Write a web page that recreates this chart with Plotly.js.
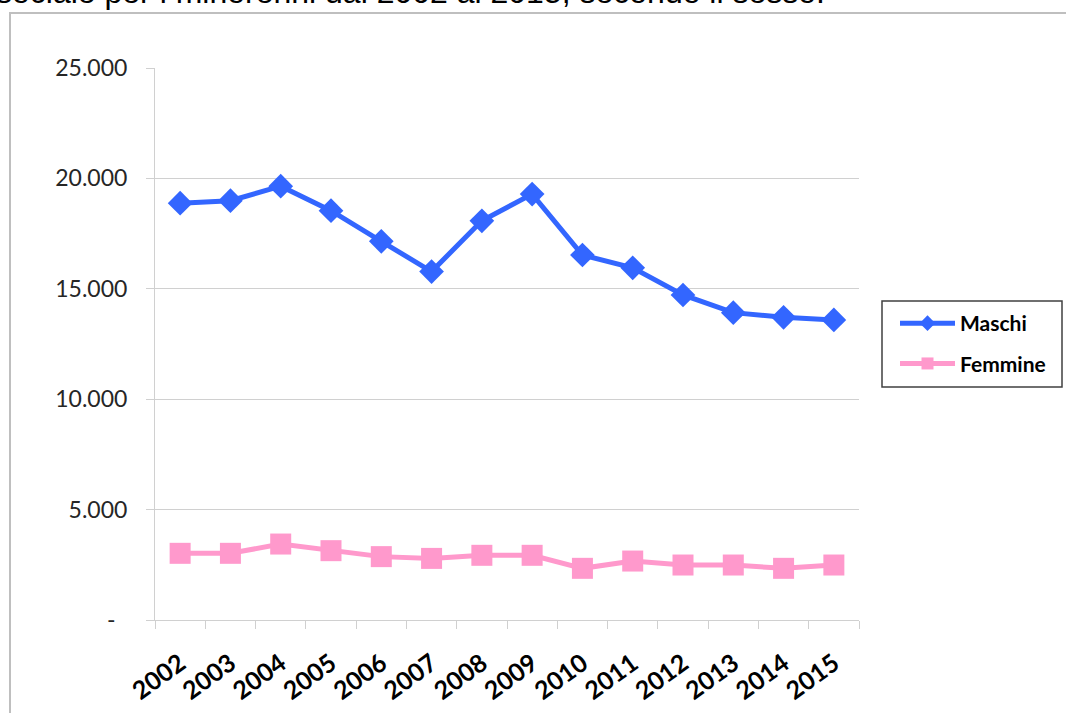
<!DOCTYPE html>
<html>
<head>
<meta charset="utf-8">
<script src="https://cdn.plot.ly/plotly-3.0.1.min.js"></script>
<style>
html,body{margin:0;padding:0;background:#fff;}
#chart{width:1066px;height:713px;}
</style>
</head>
<body>
<div id="chart"></div>
<script>
const years = ['2002','2003','2004','2005','2006','2007','2008','2009','2010','2011','2012','2013','2014','2015'];
const maschi = [18880, 18990, 19650, 18540, 17150, 15780, 18080, 19290, 16530, 15950, 14720, 13920, 13710, 13590];
const femmine = [3020, 3020, 3440, 3140, 2870, 2790, 2930, 2930, 2340, 2670, 2490, 2490, 2340, 2490];
const yTickVals = [0, 5000, 10000, 15000, 20000, 25000];
const yTickText = ['-\u00a0\u00a0', '5.000', '10.000', '15.000', '20.000', '25.000'];
const headerText = 'sociale per i minorenni dal 2002 al 2015, secondo il sesso.';

const traces = [
  {
    x: years, y: maschi, name: 'Maschi', type: 'scatter', mode: 'lines+markers',
    legendgroup: 'm',
    line: {color: '#3366ff', width: 5},
    marker: {symbol: 'diamond', size: 19, color: '#3366ff'}
  },
  {
    x: years, y: femmine, name: 'Femmine', type: 'scatter', mode: 'lines+markers',
    legendgroup: 'f',
    line: {color: '#ff99cc', width: 5},
    marker: {symbol: 'square', size: 21, color: '#ff99cc'}
  }
];

const L = 155, T = 68, W = 704, H = 552;
const px = x => (x - L) / W;
const py = y => 1 - (y - T) / H;

const layout = {
  width: 1066, height: 713,
  margin: {l: L, r: 1066 - L - W, t: T, b: 713 - T - H, pad: 0},
  paper_bgcolor: '#ffffff', plot_bgcolor: '#ffffff',
  showlegend: true,
  font: {family: 'Lato, Carlito, sans-serif', color: '#222'},
  xaxis: {
    type: 'category',
    range: [-0.5, 13.5],
    tickson: 'boundaries',
    ticks: 'outside', ticklen: 8, tickcolor: '#d0d0d0', tickwidth: 1,
    showline: true, linecolor: '#d0d0d0', linewidth: 1,
    showgrid: false, zeroline: false,
    tickangle: -36,
    ticklabelstandoff: 18,
    tickfont: {family: 'Lato, Carlito, sans-serif', size: 25, color: '#000', weight: 'bold'},
    fixedrange: true
  },
  yaxis: {
    range: [0, 25000],
    tickvals: yTickVals, ticktext: yTickText,
    ticks: 'outside', ticklen: 8, tickcolor: '#d0d0d0', tickwidth: 1,
    showline: true, linecolor: '#d0d0d0', linewidth: 1,
    showgrid: true, gridcolor: '#d0d0d0', gridwidth: 1,
    zeroline: false,
    ticklabelstandoff: 14,
    tickfont: {family: 'Lato, Carlito, sans-serif', size: 23, color: '#262626'},
    fixedrange: true
  },
  legend: {
    x: px(895), y: py(303), xanchor: 'left', yanchor: 'top',
    bgcolor: 'rgba(0,0,0,0)', borderwidth: 0,
    font: {family: 'Lato, Carlito, sans-serif', size: 21, color: '#000', weight: 'bold'},
    itemsizing: 'constant',
    itemwidth: 55,
    tracegroupgap: 10,
    traceorder: 'grouped'
  },
  shapes: [
    {type: 'rect', xref: 'paper', yref: 'paper', x0: px(10), x1: px(1100), y0: py(760), y1: py(13),
     line: {color: '#bfbfbf', width: 2}, fillcolor: 'rgba(0,0,0,0)', layer: 'below'},
    {type: 'rect', xref: 'paper', yref: 'paper', x0: px(882), x1: px(1062), y0: py(387), y1: py(301),
     line: {color: '#404040', width: 1.5}, fillcolor: 'rgba(0,0,0,0)'}
  ],
  annotations: [
    {text: headerText, xref: 'paper', yref: 'paper', x: px(827), y: py(-8),
     xanchor: 'right', yanchor: 'middle', showarrow: false,
     font: {family: 'Liberation Sans, Arial, sans-serif', size: 32, color: '#000'}}
  ]
};

Plotly.newPlot('chart', traces, layout, {displayModeBar: false, staticPlot: true});
</script>
</body>
</html>
